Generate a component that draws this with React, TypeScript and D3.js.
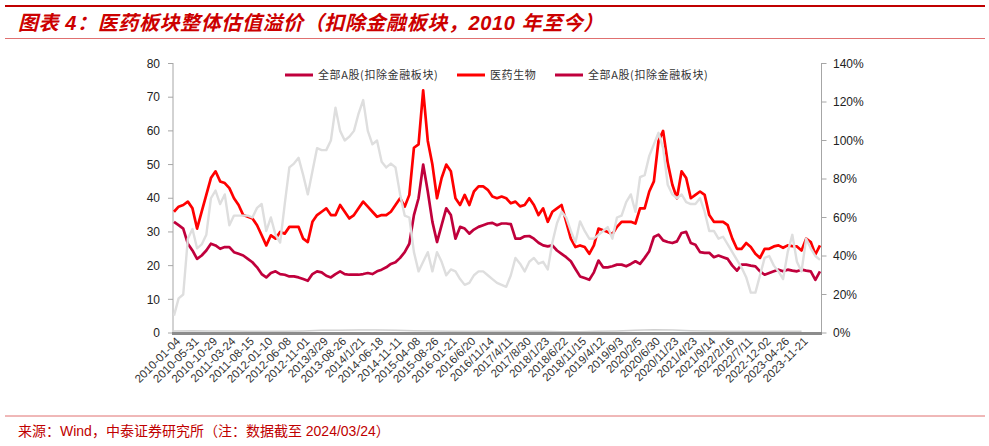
import React from 'react';
import * as d3 from 'd3';

const xLabels = [
  '2010-01-04', '2010-05-31', '2010-10-29', '2011-03-24', '2011-08-15', '2012-01-10', '2012-06-08',
  '2012-11-01', '2013/3/29', '2013-08-26', '2014/1/21', '2014-06-18', '2014-11-11', '2015-04-08',
  '2015-08-26', '2016-01-21', '2016/6/20', '2016/11/14', '2017/4/11', '2017/8/30', '2018/1/23',
  '2018/6/22', '2018/11/15', '2019/4/12', '2019/9/3', '2020/2/5', '2020/6/30', '2020/11/23',
  '2021/4/23', '2021/9/14', '2022/2/16', '2022/7/11', '2022-12-02', '2023-04-26', '2023-11-21',
];
const LABEL_STEP = 4;

// 全部A股(扣除金融板块) PE
const peMarket = [
  33, 32, 31, 26.5, 24.5, 22, 23, 24.5, 26.5, 26, 25, 25.5, 25.5, 24, 23.5, 23, 22, 21, 19.5, 17.5,
  16.5, 17.8, 18.3, 17.5, 17.3, 16.8, 16.8, 16.5, 16, 15.5, 17.5, 18.3, 18, 17, 16.5, 17.5, 18.3, 17.5,
  17.3, 17.3, 17.3, 17.5, 17.8, 17.5, 18.3, 18.8, 19.5, 20.5, 21, 22.3, 24, 26.5, 35, 40, 50, 42, 33,
  27, 32, 37, 35, 28, 31.5, 31, 29.5, 30.7, 31.5, 32, 32.5,
  32.7, 32, 32.5, 32.5, 32.3, 28, 28, 28.7, 28.8, 28, 26.8, 26, 25.7, 26, 24.5, 23.5, 22.5, 21.3, 19,
  16.8, 16.3, 15.8, 18, 21.5, 19.5, 19.5, 19.8, 20.3, 20.3, 19.8, 20.5, 21.3, 20.5, 22.3, 24.3, 28.5,
  29.2, 27.5, 27, 26.7, 27.2, 29.7, 30, 26.7, 26.2, 24, 23.8, 23.8, 22.5, 23, 22.5, 22, 20, 18.5, 20.3,
  20.3, 20, 19.8, 18.3, 17.3, 17.8, 18.3, 18.8, 18.3, 18.8, 18.5, 18.3, 18.8, 18.5, 18.3, 15.8, 18.3,
];

// 医药生物 PE
const pePharma = [
  36, 37.5, 38, 39, 37, 31, 36, 41, 46, 48, 45, 44.5, 43, 40, 38, 35, 34.5, 34, 32, 29, 26, 29, 28, 30,
  29.5, 31.5, 31.5, 31.5, 28, 27, 33, 35, 36, 37, 35, 35, 38, 36, 34, 35, 37, 39, 37.5, 36, 34.5, 35, 35,
  36, 38, 40, 37.5, 41, 55, 56, 72, 57, 50, 40, 46, 50, 48, 40, 38, 41, 38, 42, 43.5, 43.5, 42.5,
  40.5, 40, 40.5, 40, 38.5, 39, 37.6, 38, 40, 38, 35, 37, 33, 36, 37, 38, 33, 28, 25.5, 26, 25.5, 23.5,
  26, 31, 30.5, 30, 29.3, 31.5, 33, 33, 33, 32.5, 37, 37, 42, 45, 57, 60, 50.5, 44, 40, 48, 46, 40, 41,
  42, 41, 35, 33, 33, 33, 32, 28, 25, 25, 26.7, 25.5, 23.5, 22.3, 25, 25, 25.7, 26, 25.3, 26, 25.8, 25.7,
  24.5, 28, 27, 23.3, 26,
];

// 医药板块整体估值溢价 (%), right axis
const premium = [
  9, 18, 20, 49, 54, 44, 46, 51, 70, 74, 67, 72, 56, 61, 61, 61, 61, 60, 65, 67, 53, 60, 51, 47, 67, 86,
  88, 91, 82, 72, 84, 96, 95, 95, 100, 117, 105, 100, 102, 105, 114, 121, 105, 98, 100, 89, 86, 88, 86,
  72, 61, 60, 42, 32, 37, 42, 32, 42, 37, 30, 33, 32, 28, 25, 26, 30, 32, 32, 30,
  28, 26, 25, 24, 30, 39, 36, 32, 37, 39, 36, 37, 33, 47, 57, 63, 60, 53, 47, 58, 53, 49, 49, 51, 53, 55,
  49, 60, 61, 68, 72, 63, 81, 82, 92, 98, 104, 96, 77, 72, 70, 72, 68, 67, 67, 70, 63, 53, 53, 49, 50,
  46, 42, 38, 34, 29, 21, 21, 30, 39, 40, 35, 32, 28, 42, 51, 37, 32, 49, 44, 40, 38,
];

// faint series along the bottom (one value per label)
const lowSeries = [
  0.6, 0.7, 0.6, 0.6, 0.5, 0.5, 0.5, 0.6, 0.8, 0.8, 0.9, 0.9, 0.8, 0.7, 0.6, 0.5, 0.5, 0.5, 0.5, 0.5,
  0.5, 0.4, 0.4, 0.5, 0.6, 0.8, 1.0, 0.9, 0.7, 0.6, 0.5, 0.5, 0.5, 0.5, 0.5,
];

const leftTicks = [0, 10, 20, 30, 40, 50, 60, 70, 80];
const rightTicks = [0, 20, 40, 60, 80, 100, 120, 140];

const legendItems = [
  { name: '全部A股(扣除金融板块)', color: '#C0003C' },
  { name: '医药生物', color: '#FF0000' },
  { name: '全部A股(扣除金融板块)', color: '#C0003C' },
];

const CJK = '"Noto Sans CJK SC", "Liberation Sans", sans-serif';
const LAT = '"Liberation Sans", Arial, "Noto Sans CJK SC", sans-serif';

export default function App() {
  const W = 989;
  const H = 446;
  const left = 173;
  const right = 821.5;
  const x = d3.scaleLinear().domain([0, pePharma.length - 1]).range([174, 820]);
  const yL = d3.scaleLinear().domain([0, 80]).range([333, 63.5]);
  const yR = d3.scaleLinear().domain([0, 140]).range([333, 63.5]);

  const lineL = d3.line<number>().x((_, i) => x(i)).y((d) => yL(d));
  const lineR = d3.line<number>().x((_, i) => x(i)).y((d) => yR(d));
  const lineLow = d3.line<number>().x((_, i) => x(i * LABEL_STEP)).y((d) => yL(d));

  const legendX = [285, 457, 555];

  return (
    <svg
      width={W}
      height={H}
      viewBox={`0 0 ${W} ${H}`}
      style={{ position: 'absolute', left: 0, top: 0, background: '#fff' }}
    >
      <rect x={0} y={0} width={W} height={H} fill="#fff" />
      {/* header */}
      <line x1={5} x2={985} y1={6} y2={6} stroke="#C00000" strokeWidth={2.2} />
      <text
        x={18}
        y={30}
        fill="#CC0000"
        fontFamily={LAT}
        fontSize={20}
        fontWeight="bold"
        fontStyle="italic"
        letterSpacing={0.6}
      >
        图表 4：医药板块整体估值溢价（扣除金融板块，2010 年至今）
      </text>
      <line x1={5} x2={985} y1={38.5} y2={38.5} stroke="#E07070" strokeWidth={1} />

      {/* legend */}
      {legendItems.map((it, i) => (
        <g key={i}>
          <line x1={legendX[i]} x2={legendX[i] + 28} y1={75} y2={75} stroke={it.color} strokeWidth={3} />
          <text x={legendX[i] + 33} y={79} fontFamily={CJK} fontSize={11} fill="#333" letterSpacing={0.6}>
            {it.name}
          </text>
        </g>
      ))}

      {/* left axis */}
      <line x1={left} x2={left} y1={63} y2={333} stroke="#A6A6A6" strokeWidth={1} />
      {leftTicks.map((t) => (
        <g key={t}>
          <line x1={left - 5} x2={left} y1={yL(t)} y2={yL(t)} stroke="#A6A6A6" />
          <text x={160} y={yL(t)} dy="0.35em" textAnchor="end" fontFamily={LAT} fontSize={12} fill="#222">
            {t}
          </text>
        </g>
      ))}

      {/* right axis */}
      <line x1={right} x2={right} y1={63} y2={333} stroke="#A6A6A6" strokeWidth={1} />
      {rightTicks.map((t) => (
        <g key={t}>
          <line x1={right} x2={right + 5} y1={yR(t)} y2={yR(t)} stroke="#A6A6A6" />
          <text x={833} y={yR(t)} dy="0.35em" textAnchor="start" fontFamily={LAT} fontSize={12} fill="#222">
            {t}%
          </text>
        </g>
      ))}

      {/* series */}
      <path d={lineLow(lowSeries) || ''} fill="none" stroke="#D0D0D0" strokeWidth={1.5} />
      <path d={lineL(pePharma) || ''} fill="none" stroke="#FF0000" strokeWidth={2.7} strokeLinejoin="round" />
      <path d={lineL(peMarket) || ''} fill="none" stroke="#C0003C" strokeWidth={2.7} strokeLinejoin="round" />
      <path d={lineR(premium) || ''} fill="none" stroke="#DEDEDE" strokeWidth={2.4} strokeLinejoin="round" />

      {/* x axis */}
      <line x1={172} x2={822} y1={333.5} y2={333.5} stroke="#8C8C8C" strokeWidth={3} />
      {xLabels.map((lab, k) => {
        const tx = x(k * LABEL_STEP) + 7;
        const ty = 342;
        return (
          <text
            key={k}
            x={tx}
            y={ty}
            transform={`rotate(-45 ${tx} ${ty})`}
            textAnchor="end"
            fontFamily={LAT}
            fontSize={11.5}
            fill="#333"
          >
            {lab}
          </text>
        );
      })}

      {/* footer */}
      <line x1={5} x2={985} y1={416} y2={416} stroke="#E07070" strokeWidth={1} />
      <text x={18} y={436} fill="#C00000" fontFamily={LAT} fontSize={14}>
        来源：Wind，中泰证券研究所（注：数据截至 2024/03/24）
      </text>
    </svg>
  );
}
